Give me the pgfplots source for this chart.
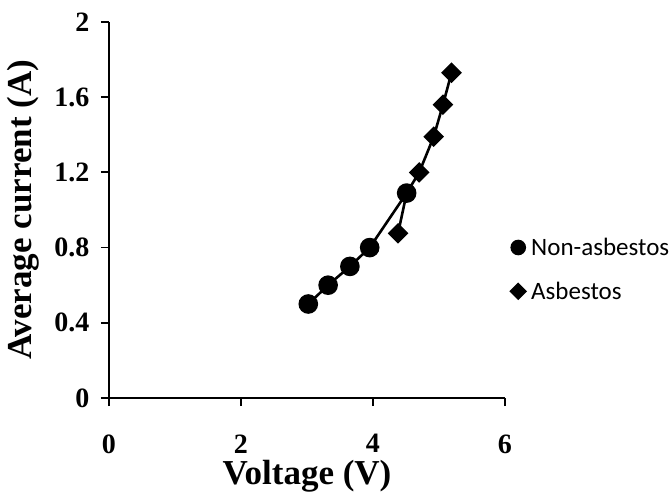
\documentclass[border=0pt]{standalone}
\usepackage{pgfplots}
\pgfplotsset{compat=1.18}
\usepackage{fontspec}
\setmainfont{Liberation Serif}
\newfontfamily\legfont{Carlito}
\begin{document}
\begin{tikzpicture}[x=1pt,y=1pt]
\path[use as bounding box] (-109,-105) rectangle (563,398);
\begin{axis}[
  at={(0,0)}, anchor=south west,
  scale only axis, width=396pt, height=376pt,
  xmin=0, xmax=6, ymin=0, ymax=2,
  axis x line*=bottom, axis y line*=left,
  axis line style={line width=2.6pt,-},
  xtick={0,2,4,6}, ytick={0,0.4,0.8,1.2,1.6,2},
  yticklabels={0,0.4,0.8,1.2,1.6,2},
  tick style={line width=1.8pt,black},
  tick align=outside, major tick length=8pt,
  /pgf/number format/assume math mode=true,
  tick label style={font=\fontsize{28}{28}\selectfont\bfseries},
  x tick label style={yshift=-25pt},
  y tick label style={xshift=-8pt},
  xlabel={Voltage (V)}, ylabel={Average current (A)},
  label style={font=\fontsize{35}{35}\selectfont\bfseries},
  xlabel style={yshift=0pt},
  ylabel style={yshift=8pt},
  clip=false,
  legend style={draw=none, fill=none, at={(1.012,0.342)}, anchor=west,
    font=\legfont\fontsize{25}{25}\selectfont, row sep=21pt, inner sep=0pt},
  legend cell align=left,
]
\addplot[black, line width=2.6pt, mark=*, mark size=8.5pt,
  legend image code/.code={\path[draw=none,fill=none] (0.3cm-7pt,0) rectangle (0.3cm+11pt,0.1pt); \fill[black] (0.3cm,0) circle (6.5pt);}]
  coordinates {(3.02,0.50) (3.32,0.60) (3.65,0.70) (3.95,0.80) (4.51,1.09)};
\addlegendentry{Non-asbestos}
\addplot[black, line width=2.6pt, mark=square*, mark size=6pt,
  mark options={rotate=45}, mark indices={1,3,4,5,6},
  legend image code/.code={\path[draw=none,fill=none] (0.3cm-7pt,0) rectangle (0.3cm+11pt,0.1pt); \fill[black] (0.3cm,7pt) -- (0.3cm+7pt,0) -- (0.3cm,-7pt) -- (0.3cm-7pt,0) -- cycle;}]
  coordinates {(4.38,0.876) (4.51,1.09) (4.70,1.20) (4.92,1.39) (5.06,1.56) (5.19,1.73)};
\addlegendentry{Asbestos}
\end{axis}
\end{tikzpicture}
\end{document}
